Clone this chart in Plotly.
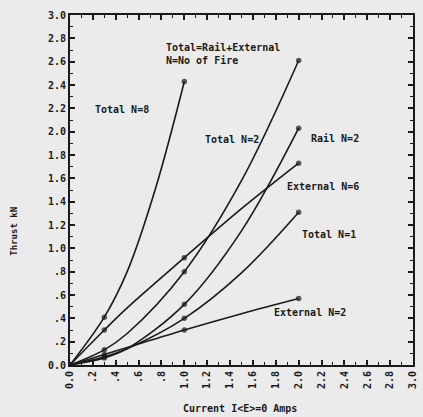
import plotly.graph_objects as go

# Thrust versus current for rail / external field configurations (N = number of fins)
total_n8_x = [0.0, 0.3, 0.5, 0.75, 1.0]
total_n8_y = [0.0, 0.41, 0.80, 1.52, 2.43]

total_n2_x = [0.0, 0.3, 0.5, 1.0, 1.5, 2.0]
total_n2_y = [0.0, 0.13, 0.27, 0.80, 1.58, 2.61]

rail_n2_x = [0.0, 0.3, 0.5, 1.0, 1.5, 2.0]
rail_n2_y = [0.0, 0.06, 0.14, 0.52, 1.15, 2.03]

ext_n6_x = [0.0, 0.3, 0.5, 1.0, 1.5, 2.0]
ext_n6_y = [0.0, 0.30, 0.49, 0.92, 1.34, 1.73]

total_n1_x = [0.0, 0.3, 0.5, 1.0, 1.5, 2.0]
total_n1_y = [0.0, 0.07, 0.14, 0.40, 0.79, 1.31]

ext_n2_x = [0.0, 0.3, 0.5, 1.0, 1.5, 2.0]
ext_n2_y = [0.0, 0.09, 0.15, 0.30, 0.44, 0.57]

# measured points carry a dot; the rest only shape the curve
marked_x = [0.0, 0.3, 1.0, 2.0]

tick_vals = [i / 10 for i in range(0, 31, 2)]
tick_text = ["0.0", ".2", ".4", ".6", ".8", "1.0", "1.2", "1.4", "1.6", "1.8",
             "2.0", "2.2", "2.4", "2.6", "2.8", "3.0"]

labels = [
    ("Total=Rail+External<br>N=No of Fire", 0.82, 2.665),
    ("Total N=8", 0.20, 2.19),
    ("Total N=2", 1.16, 1.93),
    ("Rail N=2", 2.09, 1.94),
    ("External N=6", 1.88, 1.53),
    ("Total N=1", 2.01, 1.12),
    ("External N=2", 1.77, 0.45),
]

FONT = "DejaVu Sans Mono"
INK = "#1a1a1a"
BG = "#ebebeb"

fig = go.Figure()
for xs, ys in [(total_n8_x, total_n8_y), (total_n2_x, total_n2_y),
               (rail_n2_x, rail_n2_y), (ext_n6_x, ext_n6_y),
               (total_n1_x, total_n1_y), (ext_n2_x, ext_n2_y)]:
    sizes = [5.5 if x in marked_x else 0 for x in xs]
    fig.add_trace(go.Scatter(
        x=xs, y=ys, mode="lines+markers",
        line=dict(color=INK, width=1.6, shape="spline", smoothing=1.0),
        marker=dict(color=INK, size=sizes, line=dict(width=0)),
        showlegend=False,
    ))

for text, x, y in labels:
    fig.add_annotation(
        x=x, y=y, text=text, showarrow=False, xanchor="left", yanchor="middle",
        align="left", font=dict(family=FONT, size=10, color=INK, weight="bold"),
    )

# axis titles placed as annotations
fig.add_annotation(x=0.497, y=-0.123, xref="paper", yref="paper",
                   text="Current I<E>=0 Amps", showarrow=False,
                   xanchor="center", yanchor="middle",
                   font=dict(family=FONT, size=10, color=INK, weight="bold"))
fig.add_annotation(x=-0.164, y=0.383, xref="paper", yref="paper",
                   text="Thrust kN", showarrow=False, textangle=-90,
                   xanchor="center", yanchor="middle",
                   font=dict(family=FONT, size=9, color=INK, weight="bold"))

axis_common = dict(
    range=[0, 3.0], tickvals=tick_vals, ticktext=tick_text,
    ticks="inside", ticklen=5, tickwidth=1.5, tickcolor=INK,
    minor=dict(ticks="inside", dtick=0.1, ticklen=3, tickwidth=1.2, tickcolor=INK),
    showline=True, linecolor=INK, linewidth=2, mirror="ticks",
    showgrid=False, zeroline=False,
    tickfont=dict(family=FONT, size=10, color=INK, weight="bold"),
)

fig.update_xaxes(**axis_common, tickangle=-90)
fig.update_yaxes(**axis_common)

fig.update_layout(
    width=423, height=417,
    margin=dict(l=70, r=5, t=15, b=52),
    paper_bgcolor=BG, plot_bgcolor=BG,
)

fig.write_html("out.html")
